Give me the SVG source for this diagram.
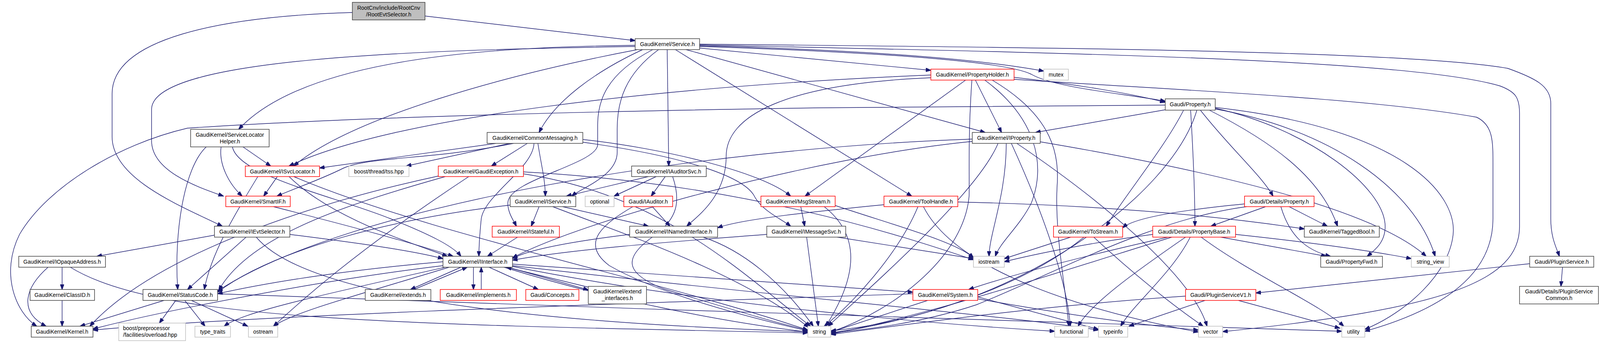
<svg xmlns="http://www.w3.org/2000/svg" width="4219" height="878" viewBox="0 0 4219 878">
<style>
.e path{fill:none;stroke:#191970;stroke-width:1.4}
.n rect{fill:#fff;stroke:#404040;stroke-width:1.5}
.n.r rect{stroke:#ff0000}
.n.g rect{stroke:#bfbfbf}
.n.root rect{fill:#bfbfbf}
text{font-family:"Liberation Sans",Arial,sans-serif;font-size:14px;text-anchor:middle;fill:#000}
text.l{text-anchor:start}
</style>
<defs>
<marker id="a" markerWidth="14" markerHeight="10" refX="13" refY="5" orient="auto" markerUnits="userSpaceOnUse"><path d="M0,0 L14,5 L0,10 z" fill="#191970" stroke="#191970"/></marker>
</defs>
<rect width="4219" height="878" fill="#fff"/>
<g id="edges" class="e">
<path marker-end="url(#a)" d="M1088,41 L1626,104"/>
<path marker-end="url(#a)" d="M902,32 C560,42 287,100 287,240 L287,350 C287,460 470,530 569,579"/>
<path marker-end="url(#a)" d="M1626,116 C1150,120 760,170 611,331"/>
<path marker-end="url(#a)" d="M1626,119 C1050,128 388,150 388,280 L388,360 C388,440 510,480 572,502"/>
<path marker-end="url(#a)" d="M1632,127 C1300,190 900,300 752,425"/>
<path marker-end="url(#a)" d="M1645,127 C1520,185 1420,260 1380,339"/>
<path marker-end="url(#a)" d="M1708,127 L1712,425"/>
<path marker-end="url(#a)" d="M1686,127 C1600,190 1580,260 1580,330 L1580,390 C1580,450 1490,480 1464,502"/>
<path marker-end="url(#a)" d="M1671,127 C1550,190 1530,260 1530,320 L1530,370 C1530,420 1300,460 1300,520 C1300,545 1315,565 1322,579"/>
<path marker-end="url(#a)" d="M1729,127 L2334,502"/>
<path marker-end="url(#a)" d="M1756,127 L2522,339"/>
<path marker-end="url(#a)" d="M1791,123 L2383,180"/>
<path marker-end="url(#a)" d="M1791,117 C2200,128 2500,150 2672,182"/>
<path marker-end="url(#a)" d="M1791,119 C2300,135 2580,160 2640,190 C2700,225 2880,240 2983,259"/>
<path marker-end="url(#a)" d="M1791,113 C2700,122 3600,130 3860,175 C3930,200 3970,220 3970,265 L3970,560 C3970,610 3985,635 3992,656"/>
<path marker-end="url(#a)" d="M1791,115 C2700,135 3600,150 3840,220 C3880,235 3890,250 3890,290 L3890,580 C3890,720 3700,790 3130,849"/>
<path marker-end="url(#a)" d="M622,376 L693,425"/>
<path marker-end="url(#a)" d="M566,376 C560,420 585,470 620,502"/>
<path marker-end="url(#a)" d="M528,376 C470,430 445,600 455,741"/>
<path marker-end="url(#a)" d="M595,376 C610,450 850,500 1000,560 C1100,600 1160,630 1180,656"/>
<path marker-end="url(#a)" d="M1270,367 L818,430"/>
<path marker-end="url(#a)" d="M1305,367 L1040,425"/>
<path marker-end="url(#a)" d="M1350,367 L1258,425"/>
<path marker-end="url(#a)" d="M1315,367 C1100,410 950,400 880,430 C820,460 760,480 709,502"/>
<path marker-end="url(#a)" d="M1377,367 C1385,420 1396,460 1396,502"/>
<path marker-end="url(#a)" d="M1367,367 C1365,430 1240,500 1232,560 C1228,600 1226,630 1226,656"/>
<path marker-end="url(#a)" d="M1492,357 C1700,380 1950,440 2024,502"/>
<path marker-end="url(#a)" d="M1492,364 C1750,400 1900,450 1930,500 C1950,540 2000,560 2024,579"/>
<path marker-end="url(#a)" d="M2489,362 C2100,400 1500,560 1312,660"/>
<path marker-end="url(#a)" d="M2489,356 C1800,380 900,520 557,745"/>
<path marker-end="url(#a)" d="M2555,367 C2500,500 2200,760 2120,835"/>
<path marker-end="url(#a)" d="M2576,367 C2576,500 2532,600 2532,656"/>
<path marker-end="url(#a)" d="M2589,367 C2650,500 2730,700 2740,835"/>
<path marker-end="url(#a)" d="M2603,367 C2800,500 3050,700 3090,835"/>
<path marker-end="url(#a)" d="M2663,363 C3000,420 3500,520 3651,656"/>
<path marker-end="url(#a)" d="M2983,269 L2100,276 C1500,285 900,300 480,328 C300,370 120,480 50,600 C0,700 40,800 94,835"/>
<path marker-end="url(#a)" d="M2983,281 L2651,339"/>
<path marker-end="url(#a)" d="M3030,282 C2980,380 2880,500 2832,579"/>
<path marker-end="url(#a)" d="M3048,282 C3055,400 3059,500 3059,579"/>
<path marker-end="url(#a)" d="M3073,282 C3150,380 3230,450 3259,502"/>
<path marker-end="url(#a)" d="M3096,282 C3250,360 3380,450 3424,579"/>
<path marker-end="url(#a)" d="M3111,279 C3400,330 3620,480 3674,656"/>
<path marker-end="url(#a)" d="M3111,275 C3600,330 3730,500 3720,600 C3710,700 3600,800 3494,843"/>
<path marker-end="url(#a)" d="M3111,277 C3350,330 3546,480 3546,580 C3546,620 3520,640 3500,656"/>
<path marker-end="url(#a)" d="M3064,282 C3000,500 2600,800 2127,847"/>
<path marker-end="url(#a)" d="M2596,198 C2750,215 2900,240 2983,262"/>
<path marker-end="url(#a)" d="M2497,205 L2564,339"/>
<path marker-end="url(#a)" d="M2472,205 L2061,502"/>
<path marker-end="url(#a)" d="M2488,205 C2478,350 2482,440 2481,500 C2470,650 2300,790 2127,850"/>
<path marker-end="url(#a)" d="M2521,205 C2650,300 2680,420 2640,520 C2610,580 2560,620 2548,656"/>
<path marker-end="url(#a)" d="M2540,205 C2700,300 2712,400 2706,480 C2700,600 2730,750 2736,835"/>
<path marker-end="url(#a)" d="M2383,192 C1700,220 1000,300 740,425"/>
<path marker-end="url(#a)" d="M2383,199 C2000,215 1859,300 1859,400 C1859,500 1790,550 1758,579"/>
<path marker-end="url(#a)" d="M2596,203 C3000,230 3500,250 3780,300 C3822,320 3822,360 3822,420 L3822,560 C3822,700 3700,790 3494,848"/>
<path marker-end="url(#a)" d="M710,452 L675,502"/>
<path marker-end="url(#a)" d="M740,452 C850,560 1050,620 1145,656"/>
<path marker-end="url(#a)" d="M752,452 C1100,600 1700,720 2068,845"/>
<path marker-end="url(#a)" d="M660,452 C600,550 540,650 523,741"/>
<path marker-end="url(#a)" d="M1140,452 C900,520 640,600 560,743"/>
<path marker-end="url(#a)" d="M1125,450 C800,520 400,650 230,835"/>
<path marker-end="url(#a)" d="M1200,452 C900,650 760,780 700,835"/>
<path marker-end="url(#a)" d="M1340,445 C1700,500 1900,700 2075,835"/>
<path marker-end="url(#a)" d="M1340,440 C1900,470 2300,600 2492,665"/>
<path marker-end="url(#a)" d="M1660,452 L1450,502"/>
<path marker-end="url(#a)" d="M1680,452 L1572,502"/>
<path marker-end="url(#a)" d="M1703,452 L1667,502"/>
<path marker-end="url(#a)" d="M1722,452 C1745,520 1730,560 1680,600 C1590,660 1600,700 1700,740 C1900,800 2000,830 2068,845"/>
<path marker-end="url(#a)" d="M700,529 C900,580 1050,620 1160,656"/>
<path marker-end="url(#a)" d="M1380,529 L1360,579"/>
<path marker-end="url(#a)" d="M1440,529 L1660,579"/>
<path marker-end="url(#a)" d="M1306,525 C1000,560 700,640 557,748"/>
<path marker-end="url(#a)" d="M1415,529 C1600,600 1900,700 2070,838"/>
<path marker-end="url(#a)" d="M1670,529 L1715,579"/>
<path marker-end="url(#a)" d="M1620,529 C1550,570 1480,620 1560,680 C1700,760 1950,820 2068,847"/>
<path marker-end="url(#a)" d="M2050,529 L2060,579"/>
<path marker-end="url(#a)" d="M2110,529 C2200,600 2200,700 2114,835"/>
<path marker-end="url(#a)" d="M2138,526 C2300,580 2450,620 2492,660"/>
<path marker-end="url(#a)" d="M2263,524 C2100,540 1900,560 1837,583"/>
<path marker-end="url(#a)" d="M2350,529 C2300,650 2180,780 2110,835"/>
<path marker-end="url(#a)" d="M2364,529 C2450,700 2800,800 3068,850"/>
<path marker-end="url(#a)" d="M2452,517 C2800,525 3100,550 3339,586"/>
<path marker-end="url(#a)" d="M3240,529 L3100,579"/>
<path marker-end="url(#a)" d="M3186,522 C3000,540 2900,560 2874,583"/>
<path marker-end="url(#a)" d="M3300,529 L3398,579"/>
<path marker-end="url(#a)" d="M3279,529 C3300,600 3340,640 3406,656"/>
<path marker-end="url(#a)" d="M3192,529 C2950,560 2700,700 2500,780 C2350,830 2200,845 2127,852"/>
<path marker-end="url(#a)" d="M560,600 L248,656"/>
<path marker-end="url(#a)" d="M630,607 L480,741"/>
<path marker-end="url(#a)" d="M742,600 C900,620 1050,640 1134,662"/>
<path marker-end="url(#a)" d="M656,607 C800,780 1500,830 2068,849"/>
<path marker-end="url(#a)" d="M1325,607 L1248,656"/>
<path marker-end="url(#a)" d="M1612,600 C1450,620 1350,640 1312,662"/>
<path marker-end="url(#a)" d="M1800,607 C1900,640 2000,720 2082,835"/>
<path marker-end="url(#a)" d="M1963,600 C1700,620 1450,640 1312,666"/>
<path marker-end="url(#a)" d="M2065,607 L2095,835"/>
<path marker-end="url(#a)" d="M2143,607 L2492,662"/>
<path marker-end="url(#a)" d="M2741,607 L2571,662"/>
<path marker-end="url(#a)" d="M2775,607 C2600,750 2300,830 2127,852"/>
<path marker-end="url(#a)" d="M2800,607 C2900,700 3000,780 3080,835"/>
<path marker-end="url(#a)" d="M2951,600 C2800,620 2650,650 2571,670"/>
<path marker-end="url(#a)" d="M2990,607 C2800,650 2600,700 2480,741"/>
<path marker-end="url(#a)" d="M3000,607 C2700,700 2400,800 2127,855"/>
<path marker-end="url(#a)" d="M3047,607 C3000,700 2900,780 2869,835"/>
<path marker-end="url(#a)" d="M3035,607 C2900,700 2790,780 2760,835"/>
<path marker-end="url(#a)" d="M3075,607 C3200,700 3380,780 3440,835"/>
<path marker-end="url(#a)" d="M3125,607 L3395,656"/>
<path marker-end="url(#a)" d="M3163,600 C3350,620 3500,640 3613,662"/>
<path marker-end="url(#a)" d="M159,684 L159,741"/>
<path marker-end="url(#a)" d="M123,684 C60,740 50,800 118,835"/>
<path marker-end="url(#a)" d="M180,684 C400,820 1000,830 2068,852"/>
<path marker-end="url(#a)" d="M159,769 L159,835"/>
<path marker-end="url(#a)" d="M1134,670 C900,690 700,720 557,752"/>
<path marker-end="url(#a)" d="M1134,680 C800,720 400,800 238,842"/>
<path marker-end="url(#a)" d="M1180,684 L1051,741"/>
<path marker-end="url(#a)" d="M1060,741 L1196,684"/>
<path marker-end="url(#a)" d="M1212,684 L1212,741"/>
<path marker-end="url(#a)" d="M1232,741 L1232,684"/>
<path marker-end="url(#a)" d="M1252,684 L1378,741"/>
<path marker-end="url(#a)" d="M1300,684 L1506,742"/>
<path marker-end="url(#a)" d="M1510,736 L1296,684"/>
<path marker-end="url(#a)" d="M1312,676 L2337,748"/>
<path marker-end="url(#a)" d="M1290,684 C1600,780 1900,830 2068,850"/>
<path marker-end="url(#a)" d="M1150,684 C900,760 750,800 700,835"/>
<path marker-end="url(#a)" d="M1140,684 C800,760 620,800 574,835"/>
<path marker-end="url(#a)" d="M1312,680 C2000,760 2600,810 2812,845"/>
<path marker-end="url(#a)" d="M1312,682 C1800,780 2400,830 2700,848"/>
<path marker-end="url(#a)" d="M420,769 L205,835"/>
<path marker-end="url(#a)" d="M450,769 L408,827"/>
<path marker-end="url(#a)" d="M473,769 L525,835"/>
<path marker-end="url(#a)" d="M490,769 L634,835"/>
<path marker-end="url(#a)" d="M557,752 C1500,790 3000,830 3435,848"/>
<path marker-end="url(#a)" d="M2375,769 L2127,850"/>
<path marker-end="url(#a)" d="M2503,760 L2812,843"/>
<path marker-end="url(#a)" d="M2503,765 C2700,800 2900,830 3068,845"/>
<path marker-end="url(#a)" d="M2337,752 C1500,780 600,810 238,845"/>
<path marker-end="url(#a)" d="M3085,769 L2890,835"/>
<path marker-end="url(#a)" d="M3170,769 L3430,840"/>
<path marker-end="url(#a)" d="M3035,758 C2700,780 2400,820 2127,856"/>
<path marker-end="url(#a)" d="M4000,684 L3996,733"/>
<path marker-end="url(#a)" d="M3916,675 L3215,750"/>
</g>
<g id="n_root" class="n root"><rect x="902" y="6" width="186" height="45"/><text x="995" y="25">RootCnv/include/RootCnv</text><text x="995" y="42">/RootEvtSelector.h</text></g>
<g id="n_service" class="n"><rect x="1626" y="99" width="165" height="28"/><text x="1708.5" y="118">GaudiKernel/Service.h</text></g>
<g id="n_propertyholder" class="n r"><rect x="2383" y="177" width="213" height="28"/><text x="2489.5" y="196">GaudiKernel/PropertyHolder.h</text></g>
<g id="n_mutex" class="n g"><rect x="2672" y="177" width="63" height="28"/><text x="2703.5" y="196">mutex</text></g>
<g id="n_property" class="n"><rect x="2983" y="253" width="128" height="29"/><text x="3047" y="272">Gaudi/Property.h</text></g>
<g id="n_slh" class="n"><rect x="488" y="331" width="201" height="45"/><text x="588.5" y="350">GaudiKernel/ServiceLocator</text><text x="588.5" y="367">Helper.h</text></g>
<g id="n_commonmessaging" class="n"><rect x="1247" y="339" width="245" height="28"/><text x="1369.5" y="358">GaudiKernel/CommonMessaging.h</text></g>
<g id="n_iproperty" class="n"><rect x="2489" y="339" width="174" height="28"/><text x="2576" y="358">GaudiKernel/IProperty.h</text></g>
<g id="n_isvclocator" class="n r"><rect x="628" y="425" width="190" height="27"/><text x="723" y="444">GaudiKernel/ISvcLocator.h</text></g>
<g id="n_tss" class="n g"><rect x="893" y="425" width="154" height="27"/><text x="970" y="444">boost/thread/tss.hpp</text></g>
<g id="n_gaudiexception" class="n r"><rect x="1122" y="425" width="218" height="27"/><text x="1231" y="444">GaudiKernel/GaudiException.h</text></g>
<g id="n_iauditorsvc" class="n"><rect x="1617" y="425" width="191" height="27"/><text x="1712.5" y="444">GaudiKernel/IAuditorSvc.h</text></g>
<g id="n_smartif" class="n r"><rect x="578" y="502" width="165" height="27"/><text x="660.5" y="521">GaudiKernel/SmartIF.h</text></g>
<g id="n_iservice" class="n"><rect x="1306" y="502" width="168" height="27"/><text x="1390" y="521">GaudiKernel/IService.h</text></g>
<g id="n_optional" class="n g"><rect x="1498" y="502" width="74" height="27"/><text x="1535" y="521">optional</text></g>
<g id="n_iauditor" class="n r"><rect x="1597" y="502" width="125" height="27"/><text x="1659.5" y="521">Gaudi/IAuditor.h</text></g>
<g id="n_msgstream" class="n r"><rect x="1948" y="502" width="190" height="27"/><text x="2043" y="521">GaudiKernel/MsgStream.h</text></g>
<g id="n_toolhandle" class="n r"><rect x="2263" y="502" width="189" height="27"/><text x="2357.5" y="521">GaudiKernel/ToolHandle.h</text></g>
<g id="n_detproperty" class="n r"><rect x="3186" y="502" width="178" height="27"/><text x="3275" y="521">Gaudi/Details/Property.h</text></g>
<g id="n_ievtselector" class="n"><rect x="549" y="579" width="193" height="28"/><text x="645.5" y="598">GaudiKernel/IEvtSelector.h</text></g>
<g id="n_istateful" class="n r"><rect x="1260" y="579" width="172" height="28"/><text x="1346" y="598">GaudiKernel/IStateful.h</text></g>
<g id="n_inamedinterface" class="n"><rect x="1612" y="579" width="225" height="28"/><text x="1724.5" y="598">GaudiKernel/INamedInterface.h</text></g>
<g id="n_imessagesvc" class="n"><rect x="1963" y="579" width="202" height="28"/><text x="2064" y="598">GaudiKernel/IMessageSvc.h</text></g>
<g id="n_tostream" class="n r"><rect x="2697" y="579" width="177" height="28"/><text x="2785.5" y="598">GaudiKernel/ToStream.h</text></g>
<g id="n_propertybase" class="n r"><rect x="2951" y="579" width="212" height="28"/><text x="3057" y="598">Gaudi/Details/PropertyBase.h</text></g>
<g id="n_taggedbool" class="n"><rect x="3339" y="579" width="192" height="28"/><text x="3435" y="598">GaudiKernel/TaggedBool.h</text></g>
<g id="n_iopaqueaddress" class="n"><rect x="48" y="656" width="222" height="28"/><text x="159" y="675">GaudiKernel/IOpaqueAddress.h</text></g>
<g id="n_iinterface" class="n"><rect x="1134" y="656" width="178" height="28"/><text x="1223" y="675">GaudiKernel/IInterface.h</text></g>
<g id="n_iostream" class="n g"><rect x="2492" y="656" width="79" height="28"/><text x="2531.5" y="675">iostream</text></g>
<g id="n_propertyfwd" class="n"><rect x="3381" y="656" width="158" height="28"/><text x="3460" y="675">Gaudi/PropertyFwd.h</text></g>
<g id="n_string_view" class="n g"><rect x="3613" y="656" width="97" height="28"/><text x="3661.5" y="675">string_view</text></g>
<g id="n_pluginservice" class="n"><rect x="3916" y="656" width="164" height="28"/><text x="3998" y="675">Gaudi/PluginService.h</text></g>
<g id="n_classid" class="n"><rect x="77" y="741" width="165" height="28"/><text x="159.5" y="760">GaudiKernel/ClassID.h</text></g>
<g id="n_statuscode" class="n"><rect x="366" y="741" width="191" height="28"/><text x="461.5" y="760">GaudiKernel/StatusCode.h</text></g>
<g id="n_extends" class="n"><rect x="935" y="741" width="168" height="28"/><text x="1019" y="760">GaudiKernel/extends.h</text></g>
<g id="n_implements" class="n r"><rect x="1127" y="741" width="195" height="28"/><text x="1224.5" y="760">GaudiKernel/implements.h</text></g>
<g id="n_concepts" class="n r"><rect x="1346" y="741" width="136" height="28"/><text x="1414" y="760">Gaudi/Concepts.h</text></g>
<g id="n_extend_interfaces" class="n"><rect x="1506" y="733" width="149" height="45"/><text x="1580.5" y="751">GaudiKernel/extend</text><text x="1580.5" y="768">_interfaces.h</text></g>
<g id="n_system" class="n r"><rect x="2337" y="741" width="166" height="28"/><text x="2420" y="760">GaudiKernel/System.h</text></g>
<g id="n_pluginservicev1" class="n r"><rect x="3035" y="741" width="180" height="28"/><text x="3125" y="760">Gaudi/PluginServiceV1.h</text></g>
<g id="n_pluginservicecommon" class="n"><rect x="3890" y="733" width="202" height="45"/><text x="3991" y="751">Gaudi/Details/PluginService</text><text x="3991" y="768">Common.h</text></g>
<g id="n_kernel" class="n"><rect x="80" y="835" width="158" height="28"/><text x="159" y="854">GaudiKernel/Kernel.h</text></g>
<g id="n_overload" class="n g"><rect x="304" y="827" width="171" height="45"/><text class="l" x="315" y="845">boost/preprocessor</text><text class="l" x="315" y="862">/facilities/overload.hpp</text></g>
<g id="n_type_traits" class="n g"><rect x="499" y="835" width="91" height="28"/><text x="544.5" y="854">type_traits</text></g>
<g id="n_ostream" class="n g"><rect x="636" y="835" width="75" height="28"/><text x="673.5" y="854">ostream</text></g>
<g id="n_string" class="n g"><rect x="2068" y="835" width="59" height="28"/><text x="2097.5" y="854">string</text></g>
<g id="n_functional" class="n g"><rect x="2700" y="835" width="86" height="28"/><text x="2743" y="854">functional</text></g>
<g id="n_typeinfo" class="n g"><rect x="2812" y="835" width="75" height="28"/><text x="2849.5" y="854">typeinfo</text></g>
<g id="n_vector" class="n g"><rect x="3068" y="835" width="62" height="28"/><text x="3099" y="854">vector</text></g>
<g id="n_utility" class="n g"><rect x="3435" y="835" width="59" height="28"/><text x="3464.5" y="854">utility</text></g>
</svg>
